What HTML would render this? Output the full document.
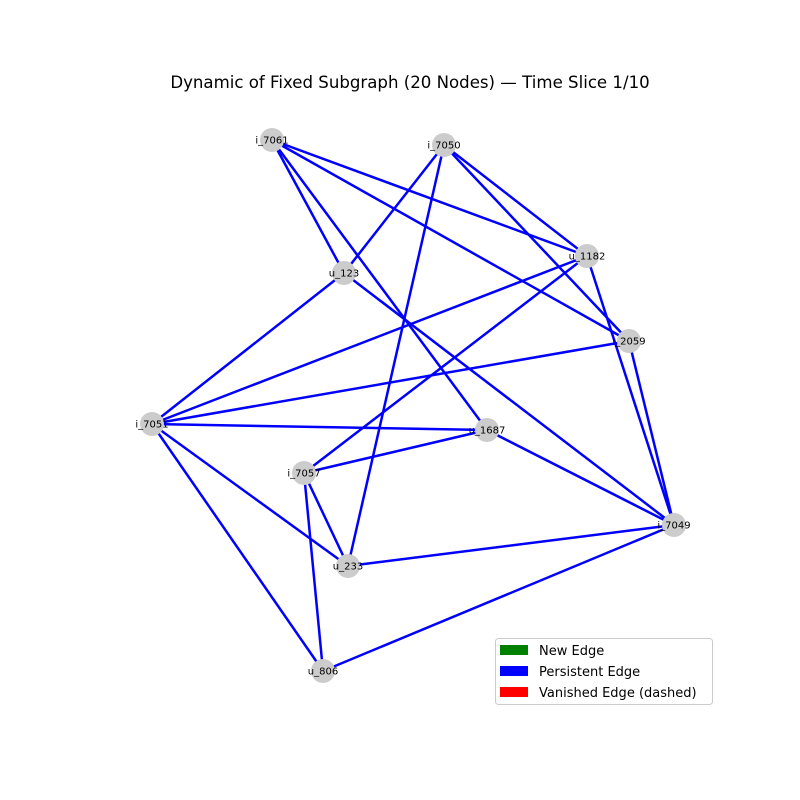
<!DOCTYPE html>
<html><head><meta charset="utf-8"><style>
body{margin:0;background:#fff}
svg{display:block;font-family:"DejaVu Sans","Liberation Sans",sans-serif}
</style></head><body>
<svg id="chart" width="800" height="800" viewBox="0 0 800 800">
<text x="410" y="88" font-size="16.6" text-anchor="middle">Dynamic of Fixed Subgraph (20 Nodes) — Time Slice 1/10</text>
<g id="edges"></g>
<g id="nodes"></g>
<g>
<rect x="495.5" y="638.5" width="217" height="66" rx="3" fill="#fff" stroke="#ccc"/>
<rect x="500" y="645" width="28" height="10" fill="green"/>
<text x="539" y="655" font-size="13">New Edge</text>
<rect x="500" y="666" width="28" height="10" fill="blue"/>
<text x="539" y="676" font-size="13">Persistent Edge</text>
<rect x="500" y="687" width="28" height="10" fill="red"/>
<text x="539" y="697" font-size="13">Vanished Edge (dashed)</text>
</g>
</svg>
<script>
const nodeNames = ["i_7061","i_7050","u_1182","u_123","i_2059","i_7051","u_1687","i_7057","i_7049","u_233","u_806"];
const nodeX = [272,444,587,344,629,152,487,304,674,348,323];
const nodeY = [140,145,256,273,341,424,430,473,525,566,671];
const edgeFrom = ["i_7061","i_7061","i_7061","i_7061","i_7050","i_7050","i_7050","i_7050","u_1182","u_1182","u_1182","u_123","u_123","i_2059","i_2059","i_7051","i_7051","i_7051","u_1687","u_1687","i_7057","i_7057","i_7049","i_7049"];
const edgeTo = ["u_1182","i_2059","u_123","u_1687","u_123","u_233","u_1182","i_2059","i_7051","i_7057","i_7049","i_7051","i_7049","i_7051","i_7049","u_1687","u_233","u_806","i_7057","i_7049","u_233","u_806","u_233","u_806"];
const NS="http://www.w3.org/2000/svg";
const eg=document.getElementById('edges'), ng=document.getElementById('nodes');
function pos(n){const i=nodeNames.indexOf(n);return [nodeX[i],nodeY[i]];}
edgeFrom.forEach((f,k)=>{
  const a=pos(f), b=pos(edgeTo[k]);
  const l=document.createElementNS(NS,'line');
  l.setAttribute('x1',a[0]);l.setAttribute('y1',a[1]);l.setAttribute('x2',b[0]);l.setAttribute('y2',b[1]);
  l.setAttribute('stroke','blue');l.setAttribute('stroke-width','2.5');
  
  
  eg.appendChild(l);
});
nodeNames.forEach((n,i)=>{
  const c=document.createElementNS(NS,'circle');
  c.setAttribute('cx',nodeX[i]);c.setAttribute('cy',nodeY[i]);c.setAttribute('r','12');c.setAttribute('fill','#cccccc');
  
  
  ng.appendChild(c);
  const t=document.createElementNS(NS,'text');
  t.setAttribute('x',nodeX[i]);t.setAttribute('y',nodeY[i]+3.5);t.setAttribute('font-size','10');t.setAttribute('text-anchor','middle');
  t.textContent=n;
  
  
  ng.appendChild(t);
});
</script>
</body></html>
